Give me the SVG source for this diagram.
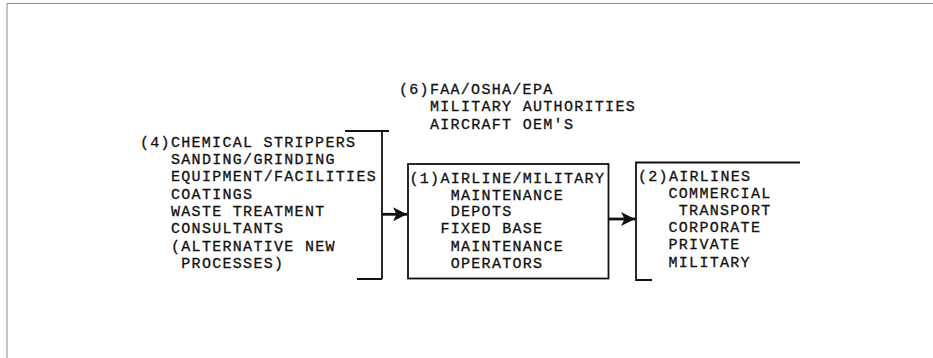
<svg xmlns="http://www.w3.org/2000/svg" width="933" height="358" viewBox="0 0 933 358">
<defs>
<style>
text{font-family:"Liberation Mono","Courier New",monospace;font-size:15px;letter-spacing:1.3px;fill:#111;stroke:#111;stroke-width:0.3}
.ln{fill:none;stroke:#111;stroke-width:1.8}
.arr{fill:none;stroke:#111;stroke-width:2.8}
.frame{fill:none;stroke:#888;stroke-width:1}
</style>
<marker id="ah" viewBox="0 0 10 10" refX="10" refY="5" markerWidth="5" markerHeight="5" markerUnits="strokeWidth" orient="auto">
<path d="M0,0 L10,5 L0,10 L2.5,5 Z" fill="#111"/>
</marker>
</defs>
<rect width="933" height="358" fill="#fff"/>
<path class="frame" d="M7,358 V3.5 H933"/>
<g id="node6">
<text x="399" y="94">(6)FAA/OSHA/EPA</text>
<text x="430" y="111.3">MILITARY AUTHORITIES</text>
<text x="430" y="128.6">AIRCRAFT OEM'S</text>
</g>
<g id="node4">
<path class="ln" d="M345,131 H389 M382,131 V279 M357,279 H382"/>
<text x="140" y="146.7">(4)CHEMICAL STRIPPERS</text>
<text x="171" y="164">SANDING/GRINDING</text>
<text x="171" y="181.3">EQUIPMENT/FACILITIES</text>
<text x="171" y="198.7">COATINGS</text>
<text x="171" y="216">WASTE TREATMENT</text>
<text x="171" y="233.3">CONSULTANTS</text>
<text x="171" y="250.7">(ALTERNATIVE NEW</text>
<text x="181.3" y="268">PROCESSES)</text>
</g>
<g id="node1">
<rect class="ln" x="408" y="164" width="200.5" height="114.5"/>
<text x="409.5" y="182.5">(1)AIRLINE/MILITARY</text>
<text x="450.7" y="199.5">MAINTENANCE</text>
<text x="450.7" y="216.3">DEPOTS</text>
<text x="440.4" y="233.3">FIXED BASE</text>
<text x="450.7" y="250.5">MAINTENANCE</text>
<text x="450.7" y="267.5">OPERATORS</text>
</g>
<g id="node2">
<path class="ln" d="M800,162.5 H636 V280 H652"/>
<text x="638" y="181">(2)AIRLINES</text>
<text x="668.5" y="197.8">COMMERCIAL</text>
<text x="678.8" y="215">TRANSPORT</text>
<text x="668.5" y="232.3">CORPORATE</text>
<text x="668.5" y="249.4">PRIVATE</text>
<text x="668.5" y="266.7">MILITARY</text>
</g>
<g id="connectors">
<path class="arr" d="M382,214.3 H407" marker-end="url(#ah)"/>
<path class="arr" d="M608.5,219 H635" marker-end="url(#ah)"/>
</g>
</svg>
